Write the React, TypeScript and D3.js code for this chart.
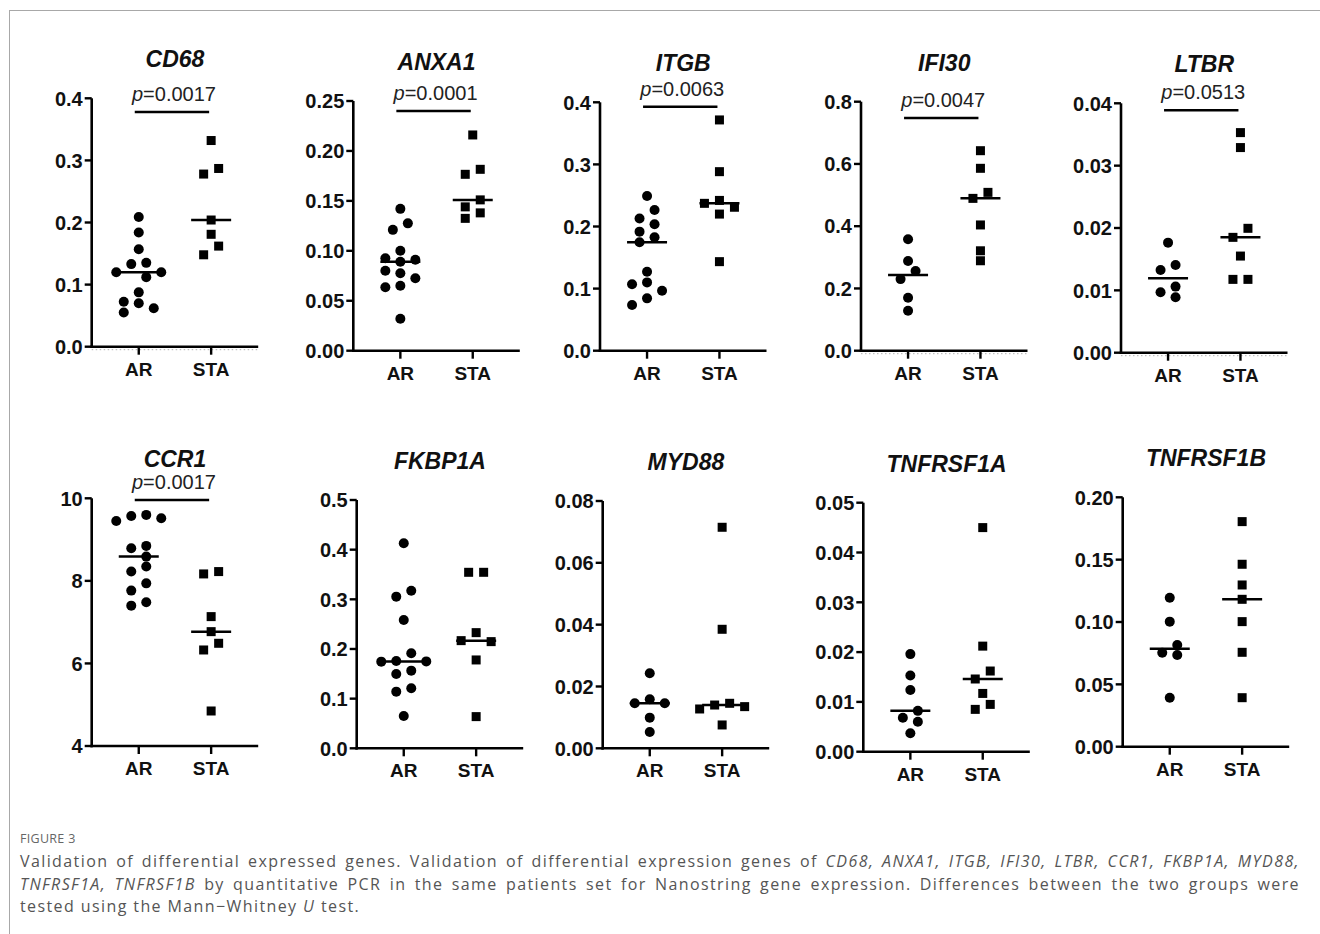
import React, { useLayoutEffect, useRef, useState } from 'react';
import * as d3 from 'd3';

// ---------------- DATA ----------------
const GROUPS = ['AR', 'STA'];

const CD68_AR = [0.209, 0.184, 0.157, 0.135, 0.133, 0.12, 0.12, 0.112, 0.0875, 0.0725, 0.07, 0.062, 0.055];
const CD68_STA = [0.332, 0.287, 0.278, 0.204, 0.181, 0.162, 0.148];
const ANXA1_AR = [0.142, 0.1275, 0.121, 0.1, 0.0925, 0.091, 0.089, 0.08, 0.0775, 0.0725, 0.065, 0.0635, 0.032];
const ANXA1_STA = [0.216, 0.1816, 0.1766, 0.151, 0.144, 0.138, 0.1325];
const ITGB_AR = [0.249, 0.2266, 0.213, 0.2035, 0.1917, 0.1826, 0.1745, 0.127, 0.11, 0.107, 0.0966, 0.0843, 0.0736];
const ITGB_STA = [0.3716, 0.2883, 0.242, 0.2373, 0.231, 0.22, 0.1434];
const IFI30_AR = [0.358, 0.288, 0.256, 0.23, 0.17, 0.1285];
const IFI30_STA = [0.6426, 0.586, 0.5087, 0.4894, 0.404, 0.321, 0.289];
const LTBR_AR = [0.01765, 0.01406, 0.01326, 0.0106, 0.0097, 0.0089];
const LTBR_STA = [0.0353, 0.0329, 0.01995, 0.0185, 0.0155, 0.01176, 0.01176];
const CCR1_AR = [9.598, 9.573, 9.517, 9.452, 8.847, 8.79, 8.588, 8.346, 8.225, 7.94, 7.764, 7.48, 7.4];
const CCR1_STA = [8.225, 8.168, 7.134, 6.77, 6.488, 6.326, 4.848];
const FKBP1A_AR = [0.4128, 0.3174, 0.3054, 0.2584, 0.1913, 0.1758, 0.175, 0.1745, 0.1564, 0.1497, 0.1208, 0.1141, 0.0651];
const FKBP1A_STA = [0.3544, 0.3544, 0.2329, 0.2168, 0.2148, 0.1779, 0.0638];
const MYD88_AR = [0.02426, 0.01585, 0.01456, 0.01456, 0.00992, 0.00528];
const MYD88_STA = [0.0715, 0.0385, 0.01456, 0.014, 0.01348, 0.01272, 0.00755];
const TNFRSF1A_AR = [0.0196, 0.0153, 0.0124, 0.0082, 0.0068, 0.006, 0.0037];
const TNFRSF1A_STA = [0.045, 0.0212, 0.0162, 0.0146, 0.0117, 0.0095, 0.0085];
const TNFRSF1B_AR = [0.1195, 0.1003, 0.0816, 0.0754, 0.0735, 0.0393];
const TNFRSF1B_STA = [0.1805, 0.1463, 0.1297, 0.1182, 0.1003, 0.0757, 0.0393];

const TICKS_CD68 = ['0.0', '0.1', '0.2', '0.3', '0.4'];
const TICKS_ANXA1 = ['0.00', '0.05', '0.10', '0.15', '0.20', '0.25'];
const TICKS_ITGB = ['0.0', '0.1', '0.2', '0.3', '0.4'];
const TICKS_IFI30 = ['0.0', '0.2', '0.4', '0.6', '0.8'];
const TICKS_LTBR = ['0.00', '0.01', '0.02', '0.03', '0.04'];
const TICKS_CCR1 = ['4', '6', '8', '10'];
const TICKS_FKBP1A = ['0.0', '0.1', '0.2', '0.3', '0.4', '0.5'];
const TICKS_MYD88 = ['0.00', '0.02', '0.04', '0.06', '0.08'];
const TICKS_TNFRSF1A = ['0.00', '0.01', '0.02', '0.03', '0.04', '0.05'];
const TICKS_TNFRSF1B = ['0.00', '0.05', '0.10', '0.15', '0.20'];

const GENES = ['CD68', 'ANXA1', 'ITGB', 'IFI30', 'LTBR', 'CCR1', 'FKBP1A', 'MYD88', 'TNFRSF1A', 'TNFRSF1B'];
const P_VALUES = ['0.0017', '0.0001', '0.0063', '0.0047', '0.0513', '0.0017', null, null, null, null];
const SIG_BAR_LEVEL = [0.378, 0.24, 0.393, 0.748, 0.0389, 9.96, null, null, null, null];

const AR_SERIES = [CD68_AR, ANXA1_AR, ITGB_AR, IFI30_AR, LTBR_AR, CCR1_AR, FKBP1A_AR, MYD88_AR, TNFRSF1A_AR, TNFRSF1B_AR];
const STA_SERIES = [CD68_STA, ANXA1_STA, ITGB_STA, IFI30_STA, LTBR_STA, CCR1_STA, FKBP1A_STA, MYD88_STA, TNFRSF1A_STA, TNFRSF1B_STA];
const TICK_SETS = [TICKS_CD68, TICKS_ANXA1, TICKS_ITGB, TICKS_IFI30, TICKS_LTBR, TICKS_CCR1, TICKS_FKBP1A, TICKS_MYD88, TICKS_TNFRSF1A, TICKS_TNFRSF1B];

// ---------------- LAYOUT (positions, not data) ----------------
// [y-axis x, plot top, plot bottom]
const PANEL_LAYOUT = [
  [91.7, 98.3, 346.7],
  [353.3, 101, 350.7],
  [600, 102.3, 350.7],
  [861, 101.7, 350.7],
  [1121, 103.3, 352.7],
  [91.7, 498.3, 746],
  [356.7, 500, 748.3],
  [602.7, 501, 748.3],
  [863.3, 502.7, 751.7],
  [1122.7, 497.3, 746.7],
];
const DOTTED_BASE = ['CD68', 'IFI30', 'LTBR'];
const AXIS_W = 166.5;
const FONT = "'Liberation Sans', Arial, sans-serif";

function swarm(values: number[], y: (v: number) => number, spacing: number, D: number) {
  const idx = values.map((_, i) => i).sort((a, b) => values[b] - values[a]);
  const placed: { i: number; dx: number; y: number }[] = [];
  for (const i of idx) {
    const yy = y(values[i]);
    let k = 0;
    const cands = [0];
    for (let j = 1; j < 6; j++) cands.push(-j, j);
    for (const c of cands) {
      const off = c * spacing;
      const hit = placed.some(p => Math.abs(p.dx - off) < spacing - 0.01 && Math.abs(p.y - yy) < D);
      if (!hit) { k = c; break; }
    }
    placed.push({ i, dx: k * spacing, y: yy });
  }
  const n = placed.length;
  const comp = new Array(n).fill(-1);
  let c = 0;
  for (let s = 0; s < n; s++) {
    if (comp[s] >= 0) continue;
    const stack = [s];
    comp[s] = c;
    while (stack.length) {
      const a = stack.pop()!;
      for (let b = 0; b < n; b++) {
        if (comp[b] >= 0) continue;
        if (Math.abs(placed[a].dx - placed[b].dx) <= spacing + 0.01 && Math.abs(placed[a].y - placed[b].y) < D) {
          comp[b] = c;
          stack.push(b);
        }
      }
    }
    c++;
  }
  for (let k = 0; k < c; k++) {
    const members = placed.filter((_, i) => comp[i] === k);
    const mn = d3.min(members, m => m.dx)!;
    const mx = d3.max(members, m => m.dx)!;
    const shift = -(mn + mx) / 2;
    members.forEach(m => (m.dx += shift));
  }
  const out: number[] = new Array(values.length);
  placed.forEach(p => (out[p.i] = p.dx));
  return out;
}

function Panel({ k }: { k: number }) {
  const gene = GENES[k];
  const [x0, top, bottom] = PANEL_LAYOUT[k];
  const ticks = TICK_SETS[k];
  const tickNums = ticks.map(t => +t);
  const x = d3.scalePoint<string>().domain(GROUPS).range([x0, x0 + AXIS_W]).padding(0.65);
  const y = d3.scaleLinear().domain([tickNums[0], tickNums[tickNums.length - 1]]).range([bottom, top]);
  const series = [AR_SERIES[k], STA_SERIES[k]];
  const mid = ((x('AR') as number) + (x('STA') as number)) / 2;
  const p = P_VALUES[k];
  const bar = SIG_BAR_LEVEL[k];
  return (
    <g>
      <text x={mid} y={top - 31} textAnchor="middle" fontFamily={FONT} fontWeight="bold" fontStyle="italic" fontSize={23} fill="#111">{gene}</text>
      {p && bar != null && (
        <g>
          <text x={mid - 1} y={y(bar) - 11} textAnchor="middle" fontFamily={FONT} fontSize={20} fill="#222">
            <tspan fontStyle="italic">p</tspan>={p}
          </text>
          <line x1={(x('AR') as number) - 4} x2={(x('STA') as number) - 2} y1={y(bar)} y2={y(bar)} stroke="#000" strokeWidth={2.5} />
        </g>
      )}
      {DOTTED_BASE.includes(gene) && (
        <line x1={x0} x2={x0 + AXIS_W} y1={bottom + 3} y2={bottom + 3} stroke="#b0b0b0" strokeWidth={1} strokeDasharray="1.5,2.5" />
      )}
      <line x1={x0} x2={x0} y1={top} y2={bottom + 1.3} stroke="#000" strokeWidth={2.6} />
      {tickNums.map((t, i) => (
        <g key={i}>
          <line x1={x0 - 7} x2={x0} y1={y(t)} y2={y(t)} stroke="#000" strokeWidth={2.4} />
          <text x={x0 - 9} y={y(t)} dy="0.36em" textAnchor="end" fontFamily={FONT} fontWeight="bold" fontSize={20} fill="#111">{ticks[i]}</text>
        </g>
      ))}
      <line x1={x0 - 1.3} x2={x0 + AXIS_W} y1={bottom} y2={bottom} stroke="#000" strokeWidth={2.6} />
      {GROUPS.map(g => (
        <g key={g}>
          <line x1={x(g)} x2={x(g)} y1={bottom} y2={bottom + 8} stroke="#000" strokeWidth={2.4} />
          <text x={x(g)} y={bottom + 29} textAnchor="middle" fontFamily={FONT} fontWeight="bold" fontSize={19} fill="#111">{g}</text>
        </g>
      ))}
      {series.map((vals, gi) => {
        const cx = x(GROUPS[gi]) as number;
        const offs = swarm(vals, v => y(v), 15, 9.5);
        const med = d3.median(vals)!;
        return (
          <g key={gi}>
            {vals.map((v, i) =>
              gi === 0 ? (
                <circle key={i} cx={cx + offs[i]} cy={y(v)} r={5} fill="#000" />
              ) : (
                <rect key={i} x={cx + offs[i] - 4.5} y={y(v) - 4.5} width={9} height={9} fill="#000" />
              )
            )}
            <line x1={cx - 20} x2={cx + 20} y1={y(med)} y2={y(med)} stroke="#000" strokeWidth={2.5} />
          </g>
        );
      })}
    </g>
  );
}

type Part = { t: string; i?: boolean };

const CAP_FONT = "'Open Sans', sans-serif";
const CAP_SIZE = 16;
const CAP_TRACK = 1.4;

function CaptionLine({ x, y, width, parts, justify }: { x: number; y: number; width: number; parts: Part[]; justify: boolean }) {
  const ref = useRef<SVGTextElement>(null);
  const [ws, setWs] = useState(0);
  useLayoutEffect(() => {
    if (!justify || !ref.current) return;
    const len = ref.current.getComputedTextLength();
    const text = parts.map(p => p.t).join('');
    const spaces = (text.match(/ /g) || []).length;
    if (spaces) setWs((width - len) / spaces);
  }, []);
  return (
    <text ref={ref} x={x} y={y} fontFamily={CAP_FONT} fontSize={CAP_SIZE} fill="#555" letterSpacing={CAP_TRACK} style={{ wordSpacing: ws + 'px', whiteSpace: 'pre' }}>
      {parts.map((p, i) => (
        <tspan key={i} fontStyle={p.i ? 'italic' : 'normal'}>{p.t}</tspan>
      ))}
    </text>
  );
}

const CAPTION_LINES: Part[][] = [
  [
    { t: 'Validation of differential expressed genes. Validation of differential expression genes of ' },
    { t: 'CD68, ANXA1, ITGB, IFI30, LTBR, CCR1, FKBP1A, MYD88,', i: true },
  ],
  [
    { t: 'TNFRSF1A, TNFRSF1B', i: true },
    { t: ' by quantitative PCR in the same patients set for Nanostring gene expression. Differences between the two groups were' },
  ],
  [{ t: 'tested using the Mann\u2212Whitney ' }, { t: 'U', i: true }, { t: ' test.' }],
];

export default function App() {
  return (
    <svg width={1320} height={934} style={{ position: 'absolute', left: 0, top: 0, background: '#fff' }}>
      <rect x={0} y={0} width={1320} height={934} fill="#fff" />
      <rect x={9.5} y={10.5} width={1400} height={1000} fill="none" stroke="#a8a8a8" strokeWidth={1} />
      {GENES.map((_, k) => (
        <Panel key={k} k={k} />
      ))}
      <text x={20} y={843} fontFamily={CAP_FONT} fontSize={12.5} fill="#666" letterSpacing={0.3}>FIGURE 3</text>
      {CAPTION_LINES.map((parts, i) => (
        <CaptionLine key={i} x={20} y={867 + i * 22.5} width={1280} parts={parts} justify={i < 2} />
      ))}
    </svg>
  );
}
